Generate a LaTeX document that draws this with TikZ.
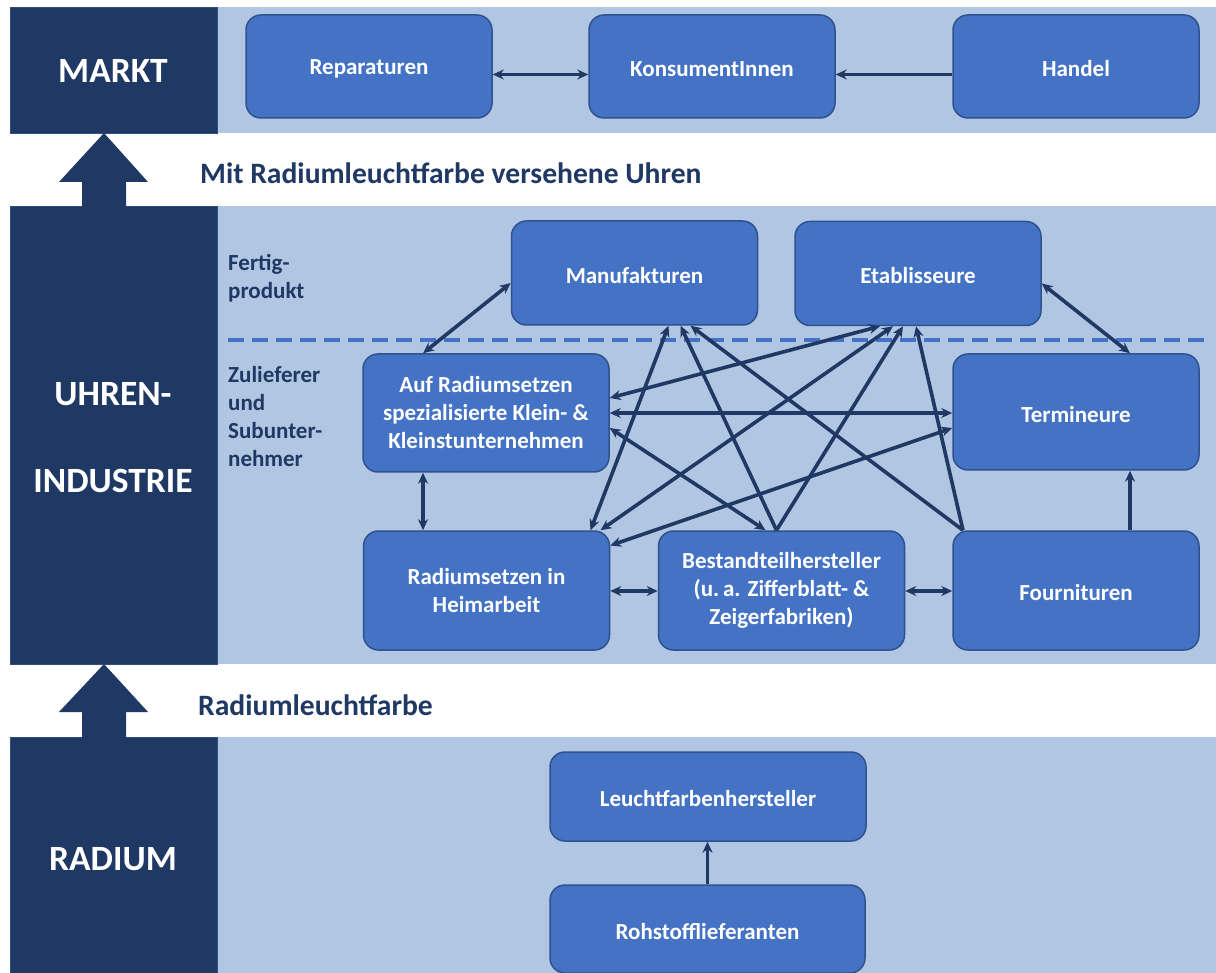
\documentclass[tikz,border=0pt]{standalone}
\usepackage{fontspec}
\setmainfont{Carlito}
\usetikzlibrary{arrows.meta}
\definecolor{navy}{HTML}{1F3864}
\definecolor{navyedge}{HTML}{2F4F80}
\definecolor{band}{HTML}{B0C6E2}
\definecolor{boxfill}{HTML}{4472C4}
\definecolor{boxedge}{HTML}{2F528F}
\definecolor{linec}{HTML}{203864}
\definecolor{dashc}{HTML}{4472C4}
\newcommand{\dnone}[1]{\raisebox{-2.5pt}[\height][\depth]{#1}}
\tikzset{
  bandbg/.style={fill=band, draw=none},
  darkbox/.style={fill=navy, draw=navyedge, line width=0.8pt},
  bigarrow/.style={fill=navy, draw=none},
  sidelabel/.style={text=white, font=\fontsize{35.5}{40}\selectfont\bfseries},
  flowlabel/.style={text=navy, font=\fontsize{29.6}{34}\selectfont\bfseries, anchor=west, inner sep=0pt},
  catlabel/.style={text=navy, font=\fontsize{23}{28}\selectfont\bfseries, anchor=north west, align=left, inner sep=0pt},
  ubox/.style={rectangle, rounded corners=15pt, fill=boxfill, draw=boxedge, line width=1.5pt,
    text=white, font=\fontsize{23}{28}\selectfont\bfseries, align=center,
    minimum width=246pt, minimum height=104pt, inner sep=0pt},
  conn/.style={draw=linec, line width=3.6pt},
  both/.style={conn, {Stealth[length=11pt,width=10pt]}-{Stealth[length=11pt,width=10pt]}},
  one/.style={conn, -{Stealth[length=11pt,width=10pt]}},
}
\begin{document}
\begin{tikzpicture}[x=1pt, y=-1pt]
\useasboundingbox (0,0) rectangle (1216,973);
\fill[white] (0,0) rectangle (1216,973);
% bands
\fill[bandbg] (217,7) rectangle (1216,133);
\fill[bandbg] (217,206) rectangle (1216,664);
\fill[bandbg] (217,737) rectangle (1216,973);
% dark side boxes
\draw[darkbox] (10,7) rectangle (217,133);
\draw[darkbox] (10,206) rectangle (217,664);
\draw[darkbox] (10,737) rectangle (217,980);
% big arrows
\fill[bigarrow] (104,133) -- (148,182) -- (126,182) -- (126,207) -- (82,207) -- (82,182) -- (59,182) -- cycle;
\fill[bigarrow] (104,664) -- (148,712) -- (126,712) -- (126,738) -- (82,738) -- (82,712) -- (59,712) -- cycle;
% side labels
\node[sidelabel] (lmarkt) at (113,71) {MARKT};
\node[sidelabel] (luhren) at (113,394) {UHREN-};
\node[sidelabel] (lindus) at (113,481) {INDUSTRIE};
\node[sidelabel] (lradium) at (113,859) {RADIUM};
% flow labels
\node[flowlabel] (fuhren) at (200,173) {Mit Radiumleuchtfarbe versehene Uhren};
\node[flowlabel] (ffarbe) at (198,705) {Radiumleuchtfarbe};
% category labels
\node[catlabel] (cfertig) at (228,254) {Fertig-\\produkt};
\node[catlabel] (czul) at (228,366) {Zulieferer\\und\\Subunter-\\nehmer};
% dashed divider
\draw[dashc, line width=3.2pt, dash pattern=on 16pt off 8pt] (228,340) -- (1208,340);
% market boxes
\node[ubox, minimum height=103pt] (rep) at (369,66.5) {\dnone{Reparaturen}};
\node[ubox, minimum height=103pt] (kons) at (712,66.5) {\dnone{KonsumentInnen}};
\node[ubox, minimum height=103pt] (handel) at (1076,66.5) {\dnone{Handel}};
% industry boxes
\node[ubox, minimum height=104pt] (manu) at (634.5,273) {\dnone{Manufakturen}};
\node[ubox, minimum height=104pt] (etab) at (918,273.5) {\dnone{Etablisseure}};
\node[ubox, minimum height=118pt] (ars) at (486,413) {Auf Radiumsetzen\\spezialisierte Klein- \&\\Kleinstunternehmen};
\node[ubox, minimum height=116pt] (term) at (1076,412) {\dnone{Termineure}};
\node[ubox, minimum height=119pt] (rh) at (486.5,590.5) {Radiumsetzen in\\Heimarbeit};
\node[ubox, minimum height=119pt] (bh) at (781.5,590.5) {Bestandteilhersteller\\(u.\,a. Zifferblatt- \&\\Zeigerfabriken)};
\node[ubox, minimum height=119pt] (four) at (1076,590.5) {\dnone{Fournituren}};
% radium boxes
\node[ubox, minimum width=316pt, minimum height=89pt] (leucht) at (708,796.5) {\dnone{Leuchtfarbenhersteller}};
\node[ubox, minimum width=315pt, minimum height=88pt] (roh) at (707.5,929) {\dnone{Rohstofflieferanten}};
% market connectors
\draw[both] ([yshift=-8pt]rep.east) -- ([yshift=-8pt]kons.west);
\draw[one] ([yshift=-8pt]handel.west) -- ([yshift=-8pt]kons.east);
% industry connectors
\draw[both] ([xshift=-63pt]ars.north) -- ([yshift=-10pt]manu.west);
\draw[both] ([xshift=104pt]rh.north) -- ([xshift=34pt]manu.south);
\draw[one] ([xshift=-5pt]bh.north) -- ([xshift=46pt]manu.south);
\draw[one] ([xshift=-113pt]four.north) -- ([xshift=56pt]manu.south);
\draw[both] ([xshift=-38pt]etab.south) -- ([yshift=15pt]ars.east);
\draw[both] (ars.east) -- (ars.east -| term.west);
\draw[both] ([yshift=-15pt]ars.east) -- ([xshift=-16pt]bh.north);
\draw[both] ([xshift=-25pt]etab.south) -- ([xshift=114pt]rh.north);
\draw[one] ([xshift=-5pt]bh.north) -- ([xshift=-15pt]etab.south);
\draw[one] ([xshift=-113pt]four.north) -- ([xshift=-2pt]etab.south);
\draw[both] ([yshift=-16pt]term.west) -- ([yshift=45pt]rh.east);
\draw[both] ([yshift=-10pt]etab.east) -- ([xshift=54pt]term.north);
\draw[both] ([xshift=-63pt]ars.south) -- ([xshift=-63.5pt]rh.north);
\draw[both] ([yshift=-0.5pt]rh.east) -- ([yshift=-0.5pt]rh.east -| bh.west);
\draw[both] ([yshift=-0.5pt]bh.east) -- ([yshift=-0.5pt]bh.east -| four.west);
\draw[one] ([xshift=54pt]four.north) -- ([xshift=54pt]term.south);
% radium connector
\draw[one] (roh.north) -- (roh.north |- leucht.south);
\end{tikzpicture}
\end{document}
